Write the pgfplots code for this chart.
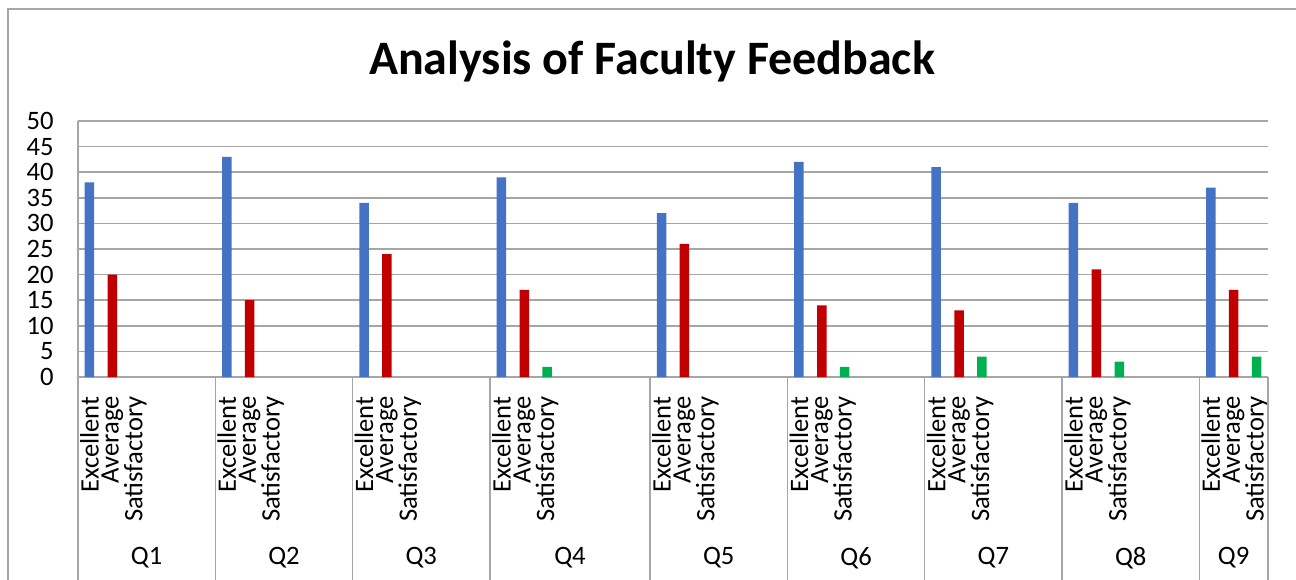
\documentclass[border=0pt]{standalone}
\usepackage{fontspec}
\setmainfont{Carlito}
\usepackage{pgfplots}
\pgfplotsset{compat=1.18}
\definecolor{cblue}{HTML}{4472C4}
\definecolor{cred}{HTML}{C00000}
\definecolor{cgreen}{HTML}{00B050}
\definecolor{gridgray}{HTML}{A6A6A6}
\begin{document}
\begin{tikzpicture}[x=1pt,y=1pt]
\path[use as bounding box] (0,0) rectangle (648,289.5);
\draw[gridgray, line width=0.75pt] (4,-5) -- (4,285) -- (660,285);
\node[font=\fontsize{24}{28}\selectfont\bfseries, anchor=base] at (326,252) {Analysis of Faculty Feedback};
\begin{axis}[
 at={(39pt,101pt)}, anchor=south west,
 scale only axis, width=595pt, height=128pt,
 xmin=-0.5, xmax=51.5, ymin=0, ymax=50,
 ytick={0,5,...,50},
 xtick={0,1,2,6,7,8,12,13,14,18,19,20,25,26,27,31,32,33,37,38,39,43,44,45,49,50,51},
 xticklabels={Excellent,Average,Satisfactory,Excellent,Average,Satisfactory,Excellent,Average,Satisfactory,Excellent,Average,Satisfactory,Excellent,Average,Satisfactory,Excellent,Average,Satisfactory,Excellent,Average,Satisfactory,Excellent,Average,Satisfactory,Excellent,Average,Satisfactory},
 major tick length=0pt,
 axis lines*=left,
 axis line style={draw=gridgray, line width=0.75pt},
 ymajorgrids, grid style={gridgray, line width=0.75pt},
 tick label style={font=\fontsize{13.3}{16}\selectfont},
 /pgf/number format/assume math mode=true,
 yticklabel style={inner sep=0pt},
 yticklabel shift=12pt,
 xticklabel style={rotate=90, anchor=east, inner sep=0pt},
 xticklabel shift=9.5pt,
 clip=false,
]
\addplot[ybar, bar width=4.75pt, fill=cblue, draw=none] coordinates {(0,38)(6,43)(12,34)(18,39)(25,32)(31,42)(37,41)(43,34)(49,37)};
\addplot[ybar, bar width=4.75pt, fill=cred, draw=none] coordinates {(1,20)(7,15)(13,24)(19,17)(26,26)(32,14)(38,13)(44,21)(50,17)};
\addplot[ybar, bar width=4.75pt, fill=cgreen, draw=none] coordinates {(20,2)(33,2)(39,4)(45,3)(51,4)};
\pgfplotsinvokeforeach{-0.5,5.5,11.5,17.5,24.5,30.5,36.5,42.5,48.5,51.5}{
  \draw[gridgray, line width=0.75pt] (axis cs:#1,0) -- ++(0pt,-105pt);
}
\node[font=\fontsize{13.3}{16}\selectfont, yshift=-90.5pt] at (axis cs:2.5,0) {Q1};
\node[font=\fontsize{13.3}{16}\selectfont, yshift=-90.5pt] at (axis cs:8.5,0) {Q2};
\node[font=\fontsize{13.3}{16}\selectfont, yshift=-90.5pt] at (axis cs:14.5,0) {Q3};
\node[font=\fontsize{13.3}{16}\selectfont, yshift=-90.5pt] at (axis cs:21,0) {Q4};
\node[font=\fontsize{13.3}{16}\selectfont, yshift=-90.5pt] at (axis cs:27.5,0) {Q5};
\node[font=\fontsize{13.3}{16}\selectfont, yshift=-90.5pt] at (axis cs:33.5,0) {Q6};
\node[font=\fontsize{13.3}{16}\selectfont, yshift=-90.5pt] at (axis cs:39.5,0) {Q7};
\node[font=\fontsize{13.3}{16}\selectfont, yshift=-90.5pt] at (axis cs:45.5,0) {Q8};
\node[font=\fontsize{13.3}{16}\selectfont, yshift=-90.5pt] at (axis cs:50,0) {Q9};
\end{axis}
\end{tikzpicture}
\end{document}
